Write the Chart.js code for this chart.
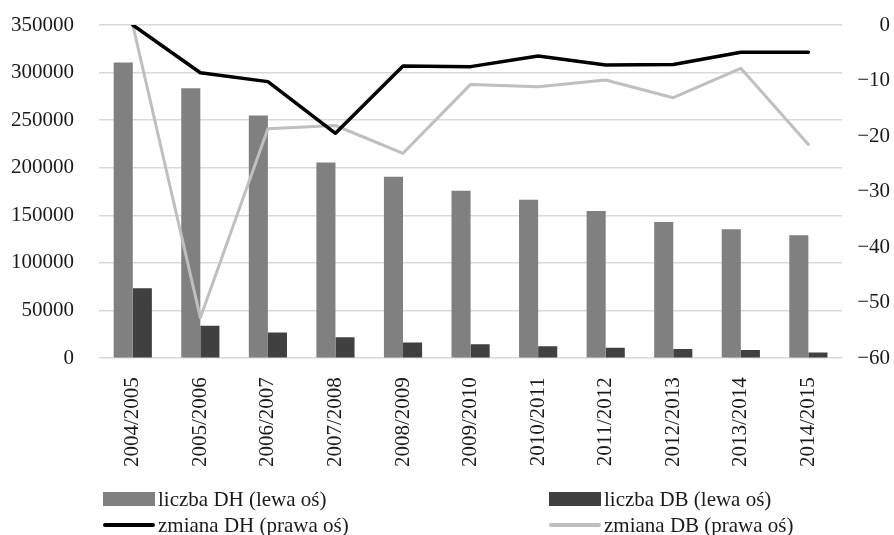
<!DOCTYPE html>
<html lang="pl">
<head>
<meta charset="utf-8">
<script src="https://cdn.jsdelivr.net/npm/chart.js@4/dist/chart.umd.min.js"></script>
<style>
  html, body { margin: 0; padding: 0; background: #fff; }
  #wrap { position: relative; width: 894px; height: 535px; }
  #chart { position: absolute; left: 0; top: 0; }
  .lg { position: absolute; display: flex; align-items: center; white-space: nowrap;
        font-family: "Liberation Serif", "DejaVu Serif", serif; font-size: 21px; color: #1a1a1a; line-height: 1; }
  .lg .key { width: 52px; margin-right: 3px; flex: none; }
</style>
</head>
<body>
<div id="wrap">
  <canvas id="chart" width="894" height="535"></canvas>
  <div id="legend"></div>
</div>
<script>
// Academic years on the category axis
const years = ["2004/2005", "2005/2006", "2006/2007", "2007/2008", "2008/2009", "2009/2010",
               "2010/2011", "2011/2012", "2012/2013", "2013/2014", "2014/2015"];

// Counts (left axis)
const liczbaDH = [310500, 283500, 255000, 205500, 190500, 176000, 166500, 154500, 143000, 135500, 129000];
const liczbaDB = [73500, 34000, 27000, 22000, 16500, 14500, 12500, 11000, 9500, 8500, 6000];

// Year-on-year change (right axis)
const zmianaDH = [0, -8.6, -10.2, -19.5, -7.4, -7.5, -5.6, -7.2, -7.1, -4.9, -4.9];
const zmianaDB = [0, -52.7, -18.7, -18.1, -23.1, -10.7, -11.1, -9.9, -13.1, -7.8, -21.5];

// Series names
const names = ["liczba DH (lewa oś)", "liczba DB (lewa oś)", "zmiana DH (prawa oś)", "zmiana DB (prawa oś)"];

// Axis tick settings
const leftMax = 350000, leftStep = 50000;
const rightMin = -60, rightMax = 0, rightStep = 10;

const FONT = "'Liberation Serif', 'DejaVu Serif', serif";
const colDH = "#808080", colDB = "#404040", colLineDH = "#000000", colLineDB = "#bfbfbf";
const textCol = "#1a1a1a";
const clear = "rgba(0,0,0,0)";

const tickFont = { family: FONT, size: 21 };

new Chart(document.getElementById("chart"), {
  data: {
    labels: years,
    datasets: [
      { type: "line", label: names[2], data: zmianaDH, yAxisID: "yR", order: 0,
        borderColor: colLineDH, borderWidth: 3.5, pointRadius: 0, tension: 0,
        borderJoinStyle: "round", borderCapStyle: "round" },
      { type: "line", label: names[3], data: zmianaDB, yAxisID: "yR", order: 1,
        borderColor: colLineDB, borderWidth: 3, pointRadius: 0, tension: 0,
        borderJoinStyle: "round", borderCapStyle: "round" },
      { type: "bar", label: names[0], data: liczbaDH, yAxisID: "yL", order: 2,
        backgroundColor: colDH, barPercentage: 1, categoryPercentage: 0.565 },
      { type: "bar", label: names[1], data: liczbaDB, yAxisID: "yL", order: 2,
        backgroundColor: colDB, barPercentage: 1, categoryPercentage: 0.565 }
    ]
  },
  options: {
    responsive: false,
    animation: false,
    layout: { padding: { left: 8, right: 4, top: 25, bottom: 65 } },
    plugins: { legend: { display: false }, tooltip: { enabled: false } },
    scales: {
      x: {
        grid: { display: false, drawTicks: true, tickLength: 16, tickColor: clear },
        border: { display: false },
        ticks: { font: tickFont, color: textCol, minRotation: 90, maxRotation: 90,
                 autoSkip: false, padding: 3 }
      },
      yL: {
        position: "left", min: 0, max: leftMax,
        grid: { color: "#d9d9d9", lineWidth: 1.5, drawTicks: true, tickLength: 22, tickColor: clear },
        border: { display: false },
        ticks: { stepSize: leftStep, font: tickFont, color: textCol, padding: 3,
                 callback: v => String(v) }
      },
      yR: {
        position: "right", min: rightMin, max: rightMax,
        grid: { display: false, drawTicks: true, tickLength: 9, tickColor: clear },
        border: { display: false },
        ticks: { stepSize: rightStep, font: tickFont, color: textCol, padding: 3, crossAlign: "far",
                 callback: v => (v < 0 ? "\u2212" + Math.abs(v) : String(v)) }
      }
    }
  }
});

// Legend in a two-column grid under the axis labels
const legendItems = [
  { name: names[0], kind: "box",  color: colDH,     x: 103, y: 499 },
  { name: names[1], kind: "box",  color: colDB,     x: 549, y: 499 },
  { name: names[2], kind: "line", color: colLineDH, x: 103, y: 525 },
  { name: names[3], kind: "line", color: colLineDB, x: 549, y: 525 }
];
const legend = document.getElementById("legend");
legendItems.forEach(it => {
  const el = document.createElement("div");
  el.className = "lg";
  el.style.left = it.x + "px";
  el.style.top = (it.y - 12) + "px";
  el.style.height = "24px";
  const key = document.createElement("span");
  key.className = "key";
  key.style.background = it.color;
  key.style.height = it.kind === "box" ? "14px" : "4px";
  if (it.kind === "line") key.style.borderRadius = "2px";
  const txt = document.createElement("span");
  txt.textContent = it.name;
  el.appendChild(key);
  el.appendChild(txt);
  legend.appendChild(el);
});
</script>
</body>
</html>
